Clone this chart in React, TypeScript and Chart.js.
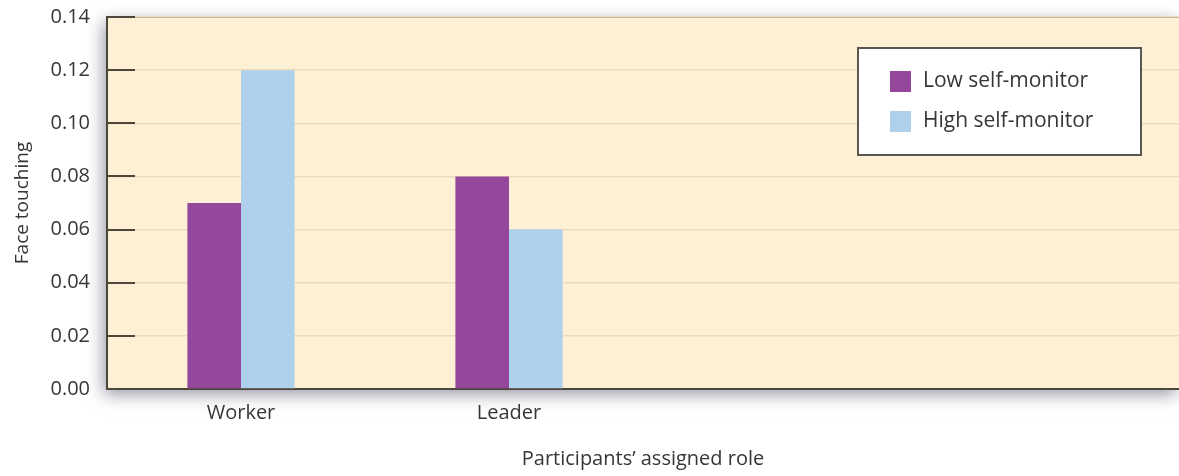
import React, { useEffect, useRef } from "react";
import { Chart, registerables } from "chart.js";

Chart.register(...registerables);

const categories: string[] = ["Worker", "Leader", "", ""];
const lowSelfMonitor: (number | null)[] = [0.07, 0.08, null, null];
const highSelfMonitor: (number | null)[] = [0.12, 0.06, null, null];
const seriesNames: string[] = ["Low self-monitor", "High self-monitor"];
const seriesColors: string[] = ["#95479b", "#afd0ea"];
const yMin = 0;
const yMax = 0.14;
const yStep = 0.02;

const FONT = "'Open Sans', sans-serif";
const TEXT_COLOR = "#363636";
const AXIS_COLOR = "#4d463a";

const plotDecor = {
  id: "plotDecor",
  beforeDraw(chart: any) {
    const { ctx, chartArea } = chart;
    const { left, top, right, bottom } = chartArea;
    ctx.save();
    ctx.shadowColor = "rgba(60,60,90,0.55)";
    ctx.shadowBlur = 16;
    ctx.shadowOffsetX = -3;
    ctx.shadowOffsetY = 5;
    ctx.fillStyle = "#fef0d4";
    ctx.fillRect(left, top, right - left, bottom - top);
    ctx.restore();
    ctx.save();
    ctx.strokeStyle = "#9a958c";
    ctx.lineWidth = 1;
    ctx.beginPath();
    ctx.moveTo(left, top + 0.5);
    ctx.lineTo(right, top + 0.5);
    ctx.stroke();
    ctx.restore();
  },
  afterDraw(chart: any) {
    const { ctx, chartArea } = chart;
    const y = chart.scales.y;
    ctx.save();
    ctx.strokeStyle = AXIS_COLOR;
    ctx.lineWidth = 2;
    y.ticks.forEach((t: any) => {
      const py = Math.round(y.getPixelForValue(t.value));
      ctx.beginPath();
      ctx.moveTo(chartArea.left, py);
      ctx.lineTo(chartArea.left + 28, py);
      ctx.stroke();
    });
    ctx.restore();

    // legend box
    const boxW = 283;
    const boxH = 107;
    const boxX = chartArea.right - 38 - boxW;
    const boxY = chartArea.top + 31;
    ctx.save();
    ctx.fillStyle = "#ffffff";
    ctx.fillRect(boxX, boxY, boxW, boxH);
    ctx.strokeStyle = "#5a5650";
    ctx.lineWidth = 2;
    ctx.strokeRect(boxX, boxY, boxW, boxH);
    ctx.font = `21px ${FONT}`;
    ctx.textBaseline = "middle";
    ctx.textAlign = "left";
    chart.data.datasets.forEach((ds: any, i: number) => {
      const cy = boxY + 33 + i * 40;
      ctx.fillStyle = ds.backgroundColor;
      ctx.fillRect(boxX + 32, cy - 10, 21, 21);
      ctx.fillStyle = TEXT_COLOR;
      ctx.fillText(ds.label, boxX + 65, cy);
    });
    ctx.restore();
  },
};

export default function App() {
  const canvasRef = useRef<HTMLCanvasElement | null>(null);

  useEffect(() => {
    document.body.style.margin = "0";
    const canvas = canvasRef.current;
    if (!canvas) return;
    const chart = new Chart(canvas, {
      type: "bar",
      data: {
        labels: categories,
        datasets: [
          { label: seriesNames[0], data: lowSelfMonitor, backgroundColor: seriesColors[0], borderWidth: 0 },
          { label: seriesNames[1], data: highSelfMonitor, backgroundColor: seriesColors[1], borderWidth: 0 },
        ],
      },
      options: {
        responsive: false,
        animation: false,
        layout: { padding: { top: 0, right: 0, left: 0, bottom: 0 } },
        plugins: { legend: { display: false }, tooltip: { enabled: false } },
        datasets: { bar: { categoryPercentage: 0.4, barPercentage: 1.0 } },
        scales: {
          x: {
            grid: { display: false, drawTicks: false },
            border: { display: true, color: AXIS_COLOR, width: 2 },
            ticks: { padding: 12, color: TEXT_COLOR, font: { family: FONT, size: 20 }, maxRotation: 0, autoSkip: false },
            title: {
              display: true,
              text: "Participants\u2019 assigned role",
              color: TEXT_COLOR,
              font: { family: FONT, size: 20 },
              padding: { top: 0, bottom: 5 },
            },
            afterFit(scale: any) {
              scale.height = 87;
            },
          },
          y: {
            min: yMin,
            max: yMax,
            grid: { color: "#eadbbd", lineWidth: 1.5, drawTicks: false },
            border: { display: true, color: AXIS_COLOR, width: 2 },
            ticks: {
              stepSize: yStep,
              padding: 17,
              color: TEXT_COLOR,
              font: { family: FONT, size: 20 },
              callback: (v: any) => Number(v).toFixed(2),
            },
            title: {
              display: true,
              text: "Face touching",
              color: TEXT_COLOR,
              font: { family: FONT, size: 19 },
              padding: { top: 11, bottom: 0 },
            },
            afterFit(scale: any) {
              scale.width = 107;
              scale.paddingTop = 17;
              scale.paddingBottom = 0;
            },
          },
        },
      },
      plugins: [plotDecor],
    });
    return () => chart.destroy();
  }, []);

  return (
    <div style={{ width: 1179, height: 476, background: "#ffffff" }}>
      <canvas ref={canvasRef} width={1179} height={476} />
    </div>
  );
}
